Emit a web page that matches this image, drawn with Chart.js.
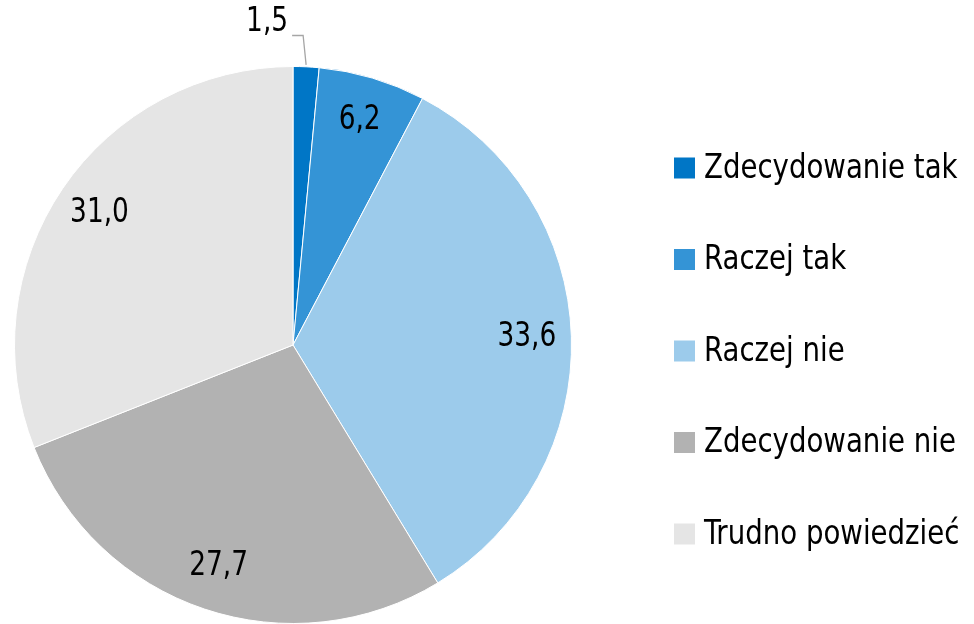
<!DOCTYPE html>
<html>
<head>
<meta charset="utf-8">
<script src="https://cdn.jsdelivr.net/npm/chart.js@4/dist/chart.umd.min.js"></script>
<style>
    html, body { margin: 0; padding: 0; background: #fff; }
    #wrap { width: 974px; height: 624px; }
</style>
</head>
<body>
<div id="wrap"><canvas id="pie" width="974" height="624"></canvas></div>
<script>
const categories = ['Zdecydowanie tak', 'Raczej tak', 'Raczej nie', 'Zdecydowanie nie', 'Trudno powiedzieć'];
const shares = [1.5, 6.2, 33.6, 27.7, 31.0];
const sliceColors = ['#0076C6', '#3494D6', '#9CCBEB', '#B2B2B2', '#E5E5E5'];

const FONT = "'DejaVu Sans Condensed', 'Liberation Sans Narrow', sans-serif";

function formatPl(v) {
    return v.toFixed(1).replace('.', ',');
}

// tekst ściśnięty w poziomie (czcionka w oryginale jest węższa)
function narrowText(ctx, text, x, y, align, squeeze) {
    ctx.save();
    ctx.translate(x, y);
    ctx.scale(squeeze, 1);
    ctx.textAlign = align;
    ctx.fillText(text, 0, 0);
    ctx.restore();
}

// etykiety wartości na wycinkach
const sliceLabels = {
    id: 'sliceLabels',
    afterDatasetsDraw(chart) {
        const ctx = chart.ctx;
        const arcs = chart.getDatasetMeta(0).data;
        ctx.save();
        ctx.font = `33px ${FONT}`;
        ctx.fillStyle = '#000';
        ctx.textBaseline = 'middle';
        arcs.forEach((arc, i) => {
            const mid = (arc.startAngle + arc.endAngle) / 2;
            const r = arc.outerRadius;
            const text = formatPl(shares[i]);
            if (shares[i] < 3) {
                // mały wycinek - etykieta na zewnątrz z linią
                const ex = arc.x + Math.cos(mid) * r;
                const ey = arc.y + Math.sin(mid) * r;
                const ly = arc.y - r - 31;
                const kx = ex - 3;
                ctx.strokeStyle = '#A6A6A6';
                ctx.lineWidth = 1.3;
                ctx.beginPath();
                ctx.moveTo(ex, ey - 2);
                ctx.lineTo(kx, ly);
                ctx.lineTo(kx - 11, ly);
                ctx.stroke();
                narrowText(ctx, text, kx - 15, ly - 13, 'right', 0.89);
            } else {
                const k = 0.84;
                narrowText(ctx, text, arc.x + Math.cos(mid) * r * k, arc.y + Math.sin(mid) * r * k, 'center', 0.89);
            }
        });
        ctx.restore();
    }
};

// legenda po prawej stronie
const sideLegend = {
    id: 'sideLegend',
    afterDraw(chart) {
        const ctx = chart.ctx;
        ctx.save();
        ctx.font = `33px ${FONT}`;
        ctx.textBaseline = 'middle';
        const x0 = 674, y0 = 168, step = 91.5, box = 21;
        categories.forEach((name, i) => {
            const cy = y0 + i * step;
            ctx.fillStyle = sliceColors[i];
            ctx.fillRect(x0, cy - box / 2, box, box);
            ctx.fillStyle = '#000';
            narrowText(ctx, name, x0 + box + 9, cy + 1, 'left', 0.93);
        });
        ctx.restore();
    }
};

new Chart(document.getElementById('pie'), {
    type: 'pie',
    data: {
        labels: categories,
        datasets: [{
            data: shares,
            backgroundColor: sliceColors,
            borderColor: '#ffffff',
            borderWidth: 1
        }]
    },
    options: {
        responsive: false,
        animation: false,
        layout: { padding: { left: 13, top: 66, right: 401, bottom: 0 } },
        plugins: {
            legend: { display: false },
            tooltip: { enabled: false }
        }
    },
    plugins: [sliceLabels, sideLegend]
});
</script>
</body>
</html>
